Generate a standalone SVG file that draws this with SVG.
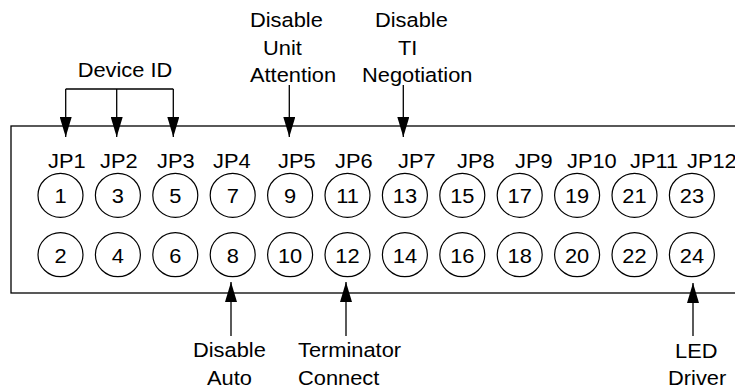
<svg xmlns="http://www.w3.org/2000/svg" width="735" height="387" viewBox="0 0 735 387">
<style>
text{font-family:"Liberation Sans",Arial,sans-serif;font-size:19.5px;fill:#000}
.c{text-anchor:middle}
.pin{fill:#fff;stroke:#000;stroke-width:1.2}
.ln{fill:none;stroke:#000;stroke-width:1.3}
</style>
<defs>
<marker id="ah" viewBox="0 0 20 12" refX="20" refY="6" markerWidth="20" markerHeight="12" orient="auto" markerUnits="userSpaceOnUse">
<path d="M0,0 L20,6 L0,12 z" fill="#000"/>
</marker>
</defs>
<rect id="board" x="11" y="126" width="740" height="167" fill="#fff" stroke="#000" stroke-width="1.3"/>
<g id="jp-labels">
<text transform="translate(48,168) scale(1.12,1)">JP1</text>
<text transform="translate(100,168) scale(1.12,1)">JP2</text>
<text transform="translate(157,168) scale(1.12,1)">JP3</text>
<text transform="translate(213,168) scale(1.12,1)">JP4</text>
<text transform="translate(278,168) scale(1.12,1)">JP5</text>
<text transform="translate(335,168) scale(1.12,1)">JP6</text>
<text transform="translate(398,168) scale(1.12,1)">JP7</text>
<text transform="translate(457,168) scale(1.12,1)">JP8</text>
<text transform="translate(515,168) scale(1.12,1)">JP9</text>
<text transform="translate(567,168) scale(1.12,1)">JP10</text>
<text transform="translate(630,168) scale(1.12,1)">JP11</text>
<text transform="translate(687,168) scale(1.12,1)">JP12</text>
</g>
<g id="pin1"><ellipse class="pin" cx="60.5" cy="195.3" rx="22.5" ry="22"/><text class="c" transform="translate(60.5,203) scale(1.12,1)">1</text></g>
<g id="pin3"><ellipse class="pin" cx="117.9" cy="195.3" rx="22.5" ry="22"/><text class="c" transform="translate(117.9,203) scale(1.12,1)">3</text></g>
<g id="pin5"><ellipse class="pin" cx="175.3" cy="195.3" rx="22.5" ry="22"/><text class="c" transform="translate(175.3,203) scale(1.12,1)">5</text></g>
<g id="pin7"><ellipse class="pin" cx="232.7" cy="195.3" rx="22.5" ry="22"/><text class="c" transform="translate(232.7,203) scale(1.12,1)">7</text></g>
<g id="pin9"><ellipse class="pin" cx="290.1" cy="195.3" rx="22.5" ry="22"/><text class="c" transform="translate(290.1,203) scale(1.12,1)">9</text></g>
<g id="pin11"><ellipse class="pin" cx="347.5" cy="195.3" rx="22.5" ry="22"/><text class="c" transform="translate(347.5,203) scale(1.12,1)">11</text></g>
<g id="pin13"><ellipse class="pin" cx="404.9" cy="195.3" rx="22.5" ry="22"/><text class="c" transform="translate(404.9,203) scale(1.12,1)">13</text></g>
<g id="pin15"><ellipse class="pin" cx="462.3" cy="195.3" rx="22.5" ry="22"/><text class="c" transform="translate(462.3,203) scale(1.12,1)">15</text></g>
<g id="pin17"><ellipse class="pin" cx="519.7" cy="195.3" rx="22.5" ry="22"/><text class="c" transform="translate(519.7,203) scale(1.12,1)">17</text></g>
<g id="pin19"><ellipse class="pin" cx="577.1" cy="195.3" rx="22.5" ry="22"/><text class="c" transform="translate(577.1,203) scale(1.12,1)">19</text></g>
<g id="pin21"><ellipse class="pin" cx="634.5" cy="195.3" rx="22.5" ry="22"/><text class="c" transform="translate(634.5,203) scale(1.12,1)">21</text></g>
<g id="pin23"><ellipse class="pin" cx="691.9" cy="195.3" rx="22.5" ry="22"/><text class="c" transform="translate(691.9,203) scale(1.12,1)">23</text></g>
<g id="pin2"><ellipse class="pin" cx="60.5" cy="254.7" rx="22.5" ry="22"/><text class="c" transform="translate(60.5,263) scale(1.12,1)">2</text></g>
<g id="pin4"><ellipse class="pin" cx="117.9" cy="254.7" rx="22.5" ry="22"/><text class="c" transform="translate(117.9,263) scale(1.12,1)">4</text></g>
<g id="pin6"><ellipse class="pin" cx="175.3" cy="254.7" rx="22.5" ry="22"/><text class="c" transform="translate(175.3,263) scale(1.12,1)">6</text></g>
<g id="pin8"><ellipse class="pin" cx="232.7" cy="254.7" rx="22.5" ry="22"/><text class="c" transform="translate(232.7,263) scale(1.12,1)">8</text></g>
<g id="pin10"><ellipse class="pin" cx="290.1" cy="254.7" rx="22.5" ry="22"/><text class="c" transform="translate(290.1,263) scale(1.12,1)">10</text></g>
<g id="pin12"><ellipse class="pin" cx="347.5" cy="254.7" rx="22.5" ry="22"/><text class="c" transform="translate(347.5,263) scale(1.12,1)">12</text></g>
<g id="pin14"><ellipse class="pin" cx="404.9" cy="254.7" rx="22.5" ry="22"/><text class="c" transform="translate(404.9,263) scale(1.12,1)">14</text></g>
<g id="pin16"><ellipse class="pin" cx="462.3" cy="254.7" rx="22.5" ry="22"/><text class="c" transform="translate(462.3,263) scale(1.12,1)">16</text></g>
<g id="pin18"><ellipse class="pin" cx="519.7" cy="254.7" rx="22.5" ry="22"/><text class="c" transform="translate(519.7,263) scale(1.12,1)">18</text></g>
<g id="pin20"><ellipse class="pin" cx="577.1" cy="254.7" rx="22.5" ry="22"/><text class="c" transform="translate(577.1,263) scale(1.12,1)">20</text></g>
<g id="pin22"><ellipse class="pin" cx="634.5" cy="254.7" rx="22.5" ry="22"/><text class="c" transform="translate(634.5,263) scale(1.12,1)">22</text></g>
<g id="pin24"><ellipse class="pin" cx="691.9" cy="254.7" rx="22.5" ry="22"/><text class="c" transform="translate(691.9,263) scale(1.12,1)">24</text></g>
<g id="connectors">
<path class="ln" d="M65.7,89 H173.3"/>
<path class="ln" d="M65.7,89 V137" marker-end="url(#ah)"/>
<path class="ln" d="M116.7,89 V137" marker-end="url(#ah)"/>
<path class="ln" d="M173.3,89 V137" marker-end="url(#ah)"/>
<path class="ln" d="M289.3,85 V137" marker-end="url(#ah)"/>
<path class="ln" d="M403.3,85 V137" marker-end="url(#ah)"/>
<path class="ln" d="M231,336 V282" marker-end="url(#ah)"/>
<path class="ln" d="M346,336 V282" marker-end="url(#ah)"/>
<path class="ln" d="M693,336 V283" marker-end="url(#ah)"/>
</g>
<g id="label-device-id"><text class="c" transform="translate(125,77) scale(1.12,1)">Device ID</text></g>
<g id="label-unit-attention">
<text transform="translate(250,27) scale(1.12,1)">Disable</text>
<text transform="translate(263,55) scale(1.12,1)">Unit</text>
<text transform="translate(250,82) scale(1.12,1)">Attention</text>
</g>
<g id="label-ti-negotiation">
<text transform="translate(375,27) scale(1.12,1)">Disable</text>
<text transform="translate(398,55) scale(1.12,1)">TI</text>
<text transform="translate(362,82) scale(1.12,1)">Negotiation</text>
</g>
<g id="label-disable-auto">
<text transform="translate(193,357) scale(1.12,1)">Disable</text>
<text transform="translate(207,385) scale(1.12,1)">Auto</text>
</g>
<g id="label-terminator">
<text transform="translate(298,357) scale(1.12,1)">Terminator</text>
<text transform="translate(298,385) scale(1.12,1)">Connect</text>
</g>
<g id="label-led">
<text transform="translate(675,358) scale(1.12,1)">LED</text>
<text transform="translate(668,385) scale(1.12,1)">Driver</text>
</g>
</svg>
